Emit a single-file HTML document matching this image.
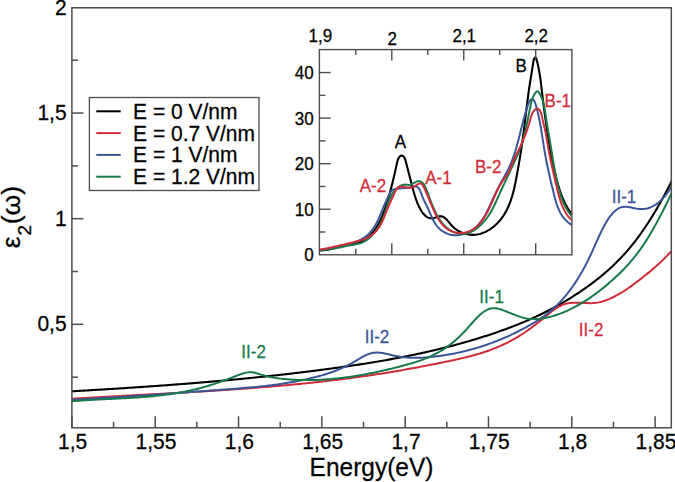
<!DOCTYPE html>
<html><head><meta charset="utf-8"><style>
html,body{margin:0;padding:0;background:#fff;}
body{width:675px;height:482px;overflow:hidden;}
svg{display:block;font-family:"Liberation Sans", sans-serif;}
</style></head><body>
<svg width="675" height="482" viewBox="0 0 675 482">
<rect x="0" y="0" width="675" height="482" fill="#fff"/>
<defs><clipPath id="cm"><rect x="71.90" y="7.80" width="599.40" height="420.00"/></clipPath>
<clipPath id="ci"><rect x="319.4" y="49.6" width="252.4" height="205.2"/></clipPath></defs>
<g clip-path="url(#cm)">
<path d="M72.0,391.30 L73.5,391.22 L75.0,391.13 L76.5,391.04 L78.0,390.96 L79.5,390.87 L81.0,390.78 L82.5,390.69 L84.0,390.61 L85.5,390.52 L87.0,390.43 L88.5,390.34 L90.0,390.25 L91.5,390.16 L93.0,390.07 L94.5,389.98 L96.0,389.89 L97.5,389.80 L99.0,389.71 L100.5,389.62 L102.0,389.53 L103.5,389.44 L105.0,389.34 L106.5,389.25 L108.0,389.16 L109.5,389.06 L111.0,388.97 L112.5,388.88 L114.0,388.78 L115.5,388.69 L117.0,388.59 L118.5,388.50 L120.0,388.40 L121.5,388.30 L123.0,388.21 L124.5,388.11 L126.0,388.01 L127.5,387.92 L129.0,387.82 L130.5,387.72 L132.0,387.62 L133.5,387.52 L135.0,387.42 L136.5,387.32 L138.0,387.22 L139.5,387.12 L141.0,387.01 L142.5,386.91 L144.0,386.81 L145.5,386.71 L147.0,386.60 L148.5,386.50 L150.0,386.39 L151.5,386.29 L153.0,386.18 L154.5,386.07 L156.0,385.97 L157.5,385.86 L159.0,385.75 L160.5,385.64 L162.0,385.54 L163.5,385.43 L165.0,385.32 L166.5,385.20 L168.0,385.09 L169.5,384.98 L171.0,384.87 L172.5,384.76 L174.0,384.64 L175.5,384.53 L177.0,384.41 L178.5,384.30 L180.0,384.18 L181.5,384.07 L183.0,383.95 L184.5,383.83 L186.0,383.71 L187.5,383.60 L189.0,383.48 L190.5,383.36 L192.0,383.24 L193.5,383.11 L195.0,382.99 L196.5,382.87 L198.0,382.75 L199.5,382.62 L201.0,382.50 L202.5,382.37 L204.0,382.25 L205.5,382.12 L207.0,381.99 L208.5,381.86 L210.0,381.73 L211.5,381.61 L213.0,381.47 L214.5,381.34 L216.0,381.21 L217.5,381.08 L219.0,380.95 L220.5,380.81 L222.0,380.68 L223.5,380.54 L225.0,380.41 L226.5,380.27 L228.0,380.13 L229.5,379.99 L231.0,379.85 L232.5,379.71 L234.0,379.57 L235.5,379.43 L237.0,379.29 L238.5,379.15 L240.0,379.00 L241.5,378.86 L243.0,378.71 L244.5,378.57 L246.0,378.42 L247.5,378.27 L249.0,378.12 L250.5,377.97 L252.0,377.82 L253.5,377.67 L255.0,377.52 L256.5,377.37 L258.0,377.21 L259.5,377.06 L261.0,376.90 L262.5,376.74 L264.0,376.59 L265.5,376.43 L267.0,376.27 L268.5,376.11 L270.0,375.95 L271.5,375.79 L273.0,375.62 L274.5,375.46 L276.0,375.29 L277.5,375.13 L279.0,374.96 L280.5,374.79 L282.0,374.62 L283.5,374.46 L285.0,374.28 L286.5,374.11 L288.0,373.94 L289.5,373.77 L291.0,373.59 L292.5,373.42 L294.0,373.24 L295.5,373.06 L297.0,372.89 L298.5,372.71 L300.0,372.53 L301.5,372.34 L303.0,372.16 L304.5,371.98 L306.0,371.79 L307.5,371.61 L309.0,371.42 L310.5,371.23 L312.0,371.05 L313.5,370.86 L315.0,370.67 L316.5,370.47 L318.0,370.28 L319.5,370.09 L321.0,369.89 L322.5,369.70 L324.0,369.50 L325.5,369.30 L327.0,369.10 L328.5,368.90 L330.0,368.70 L331.5,368.49 L333.0,368.29 L334.5,368.09 L336.0,367.88 L337.5,367.67 L339.0,367.46 L340.5,367.25 L342.0,367.04 L343.5,366.83 L345.0,366.61 L346.5,366.40 L348.0,366.18 L349.5,365.96 L351.0,365.74 L352.5,365.52 L354.0,365.30 L355.5,365.07 L357.0,364.85 L358.5,364.62 L360.0,364.39 L361.5,364.16 L363.0,363.92 L364.5,363.69 L366.0,363.45 L367.5,363.21 L369.0,362.97 L370.5,362.73 L372.0,362.48 L373.5,362.24 L375.0,361.99 L376.5,361.74 L378.0,361.48 L379.5,361.23 L381.0,360.97 L382.5,360.71 L384.0,360.45 L385.5,360.19 L387.0,359.92 L388.5,359.65 L390.0,359.38 L391.5,359.11 L393.0,358.84 L394.5,358.56 L396.0,358.28 L397.5,358.00 L399.0,357.71 L400.5,357.43 L402.0,357.14 L403.5,356.84 L405.0,356.55 L406.5,356.25 L408.0,355.95 L409.5,355.65 L411.0,355.34 L412.5,355.03 L414.0,354.72 L415.5,354.41 L417.0,354.09 L418.5,353.77 L420.0,353.45 L421.5,353.12 L423.0,352.79 L424.5,352.46 L426.0,352.13 L427.5,351.79 L429.0,351.45 L430.5,351.10 L432.0,350.76 L433.5,350.40 L435.0,350.05 L436.5,349.69 L438.0,349.33 L439.5,348.97 L441.0,348.60 L442.5,348.23 L444.0,347.86 L445.5,347.48 L447.0,347.10 L448.5,346.72 L450.0,346.33 L451.5,345.94 L453.0,345.54 L454.5,345.15 L456.0,344.74 L457.5,344.34 L459.0,343.93 L460.5,343.52 L462.0,343.10 L463.5,342.68 L465.0,342.25 L466.5,341.83 L468.0,341.39 L469.5,340.96 L471.0,340.52 L472.5,340.07 L474.0,339.63 L475.5,339.17 L477.0,338.72 L478.5,338.26 L480.0,337.79 L481.5,337.32 L483.0,336.85 L484.5,336.37 L486.0,335.89 L487.5,335.41 L489.0,334.92 L490.5,334.42 L492.0,333.92 L493.5,333.42 L495.0,332.91 L496.5,332.40 L498.0,331.88 L499.5,331.36 L501.0,330.83 L502.5,330.29 L504.0,329.75 L505.5,329.21 L507.0,328.66 L508.5,328.10 L510.0,327.53 L511.5,326.96 L513.0,326.39 L514.5,325.80 L516.0,325.21 L517.5,324.61 L519.0,324.01 L520.5,323.40 L522.0,322.78 L523.5,322.15 L525.0,321.52 L526.5,320.88 L528.0,320.23 L529.5,319.57 L531.0,318.91 L532.5,318.23 L534.0,317.55 L535.5,316.86 L537.0,316.16 L538.5,315.45 L540.0,314.74 L541.5,314.01 L543.0,313.28 L544.5,312.53 L546.0,311.78 L547.5,311.01 L549.0,310.24 L550.5,309.46 L552.0,308.66 L553.5,307.86 L555.0,307.04 L556.5,306.22 L558.0,305.39 L559.5,304.54 L561.0,303.68 L562.5,302.82 L564.0,301.94 L565.5,301.05 L567.0,300.15 L568.5,299.23 L570.0,298.31 L571.5,297.37 L573.0,296.42 L574.5,295.46 L576.0,294.49 L577.5,293.50 L579.0,292.51 L580.5,291.50 L582.0,290.47 L583.5,289.44 L585.0,288.39 L586.5,287.33 L588.0,286.25 L589.5,285.16 L591.0,284.06 L592.5,282.94 L594.0,281.80 L595.5,280.65 L597.0,279.48 L598.5,278.30 L600.0,277.09 L601.5,275.87 L603.0,274.62 L604.5,273.35 L606.0,272.06 L607.5,270.75 L609.0,269.41 L610.5,268.05 L612.0,266.66 L613.5,265.25 L615.0,263.81 L616.5,262.34 L618.0,260.84 L619.5,259.30 L621.0,257.74 L622.5,256.14 L624.0,254.51 L625.5,252.84 L627.0,251.14 L628.5,249.39 L630.0,247.61 L631.5,245.79 L633.0,243.93 L634.5,242.03 L636.0,240.08 L637.5,238.10 L639.0,236.07 L640.5,234.00 L642.0,231.88 L643.5,229.73 L645.0,227.53 L646.5,225.29 L648.0,223.00 L649.5,220.67 L651.0,218.30 L652.5,215.89 L654.0,213.43 L655.5,210.92 L657.0,208.38 L658.5,205.79 L660.0,203.15 L661.5,200.47 L663.0,197.75 L664.5,194.98 L666.0,192.16 L667.5,189.30 L669.0,186.40 L670.5,183.45 L671.5,181.46" fill="none" stroke="#000000" stroke-width="2.10" stroke-linejoin="round" stroke-linecap="round"/>
<path d="M72.0,398.73 L73.5,398.64 L75.0,398.55 L76.5,398.46 L78.0,398.36 L79.5,398.27 L81.0,398.18 L82.5,398.10 L84.0,398.01 L85.5,397.92 L87.0,397.83 L88.5,397.74 L90.0,397.66 L91.5,397.57 L93.0,397.48 L94.5,397.40 L96.0,397.31 L97.5,397.23 L99.0,397.14 L100.5,397.06 L102.0,396.97 L103.5,396.89 L105.0,396.80 L106.5,396.72 L108.0,396.64 L109.5,396.55 L111.0,396.47 L112.5,396.39 L114.0,396.31 L115.5,396.23 L117.0,396.14 L118.5,396.06 L120.0,395.98 L121.5,395.90 L123.0,395.82 L124.5,395.74 L126.0,395.66 L127.5,395.58 L129.0,395.49 L130.5,395.41 L132.0,395.33 L133.5,395.25 L135.0,395.17 L136.5,395.09 L138.0,395.01 L139.5,394.93 L141.0,394.85 L142.5,394.77 L144.0,394.69 L145.5,394.61 L147.0,394.53 L148.5,394.45 L150.0,394.37 L151.5,394.29 L153.0,394.21 L154.5,394.13 L156.0,394.05 L157.5,393.96 L159.0,393.88 L160.5,393.80 L162.0,393.72 L163.5,393.64 L165.0,393.56 L166.5,393.47 L168.0,393.39 L169.5,393.31 L171.0,393.23 L172.5,393.14 L174.0,393.06 L175.5,392.98 L177.0,392.89 L178.5,392.81 L180.0,392.72 L181.5,392.64 L183.0,392.55 L184.5,392.47 L186.0,392.38 L187.5,392.30 L189.0,392.21 L190.5,392.12 L192.0,392.04 L193.5,391.95 L195.0,391.86 L196.5,391.77 L198.0,391.68 L199.5,391.59 L201.0,391.50 L202.5,391.41 L204.0,391.32 L205.5,391.23 L207.0,391.14 L208.5,391.04 L210.0,390.95 L211.5,390.86 L213.0,390.76 L214.5,390.67 L216.0,390.57 L217.5,390.47 L219.0,390.38 L220.5,390.28 L222.0,390.18 L223.5,390.08 L225.0,389.98 L226.5,389.88 L228.0,389.78 L229.5,389.68 L231.0,389.58 L232.5,389.48 L234.0,389.37 L235.5,389.27 L237.0,389.16 L238.5,389.06 L240.0,388.95 L241.5,388.84 L243.0,388.73 L244.5,388.62 L246.0,388.51 L247.5,388.40 L249.0,388.29 L250.5,388.18 L252.0,388.06 L253.5,387.95 L255.0,387.83 L256.5,387.72 L258.0,387.60 L259.5,387.48 L261.0,387.36 L262.5,387.24 L264.0,387.12 L265.5,387.00 L267.0,386.88 L268.5,386.75 L270.0,386.63 L271.5,386.50 L273.0,386.37 L274.5,386.24 L276.0,386.11 L277.5,385.98 L279.0,385.85 L280.5,385.72 L282.0,385.59 L283.5,385.45 L285.0,385.31 L286.5,385.18 L288.0,385.04 L289.5,384.90 L291.0,384.76 L292.5,384.62 L294.0,384.47 L295.5,384.33 L297.0,384.18 L298.5,384.03 L300.0,383.89 L301.5,383.74 L303.0,383.58 L304.5,383.43 L306.0,383.28 L307.5,383.12 L309.0,382.97 L310.5,382.81 L312.0,382.65 L313.5,382.49 L315.0,382.33 L316.5,382.16 L318.0,382.00 L319.5,381.83 L321.0,381.67 L322.5,381.50 L324.0,381.33 L325.5,381.15 L327.0,380.98 L328.5,380.81 L330.0,380.63 L331.5,380.45 L333.0,380.27 L334.5,380.09 L336.0,379.91 L337.5,379.72 L339.0,379.54 L340.5,379.35 L342.0,379.16 L343.5,378.97 L345.0,378.78 L346.5,378.58 L348.0,378.39 L349.5,378.19 L351.0,377.99 L352.5,377.79 L354.0,377.59 L355.5,377.38 L357.0,377.18 L358.5,376.97 L360.0,376.76 L361.5,376.55 L363.0,376.34 L364.5,376.12 L366.0,375.91 L367.5,375.69 L369.0,375.47 L370.5,375.24 L372.0,375.02 L373.5,374.80 L375.0,374.57 L376.5,374.34 L378.0,374.11 L379.5,373.87 L381.0,373.64 L382.5,373.40 L384.0,373.16 L385.5,372.92 L387.0,372.68 L388.5,372.43 L390.0,372.19 L391.5,371.94 L393.0,371.69 L394.5,371.44 L396.0,371.18 L397.5,370.93 L399.0,370.67 L400.5,370.41 L402.0,370.15 L403.5,369.88 L405.0,369.62 L406.5,369.35 L408.0,369.08 L409.5,368.81 L411.0,368.54 L412.5,368.27 L414.0,367.99 L415.5,367.72 L417.0,367.44 L418.5,367.16 L420.0,366.87 L421.5,366.59 L423.0,366.30 L424.5,366.01 L426.0,365.72 L427.5,365.43 L429.0,365.14 L430.5,364.85 L432.0,364.55 L433.5,364.25 L435.0,363.95 L436.5,363.65 L438.0,363.35 L439.5,363.04 L441.0,362.74 L442.5,362.43 L444.0,362.12 L445.5,361.81 L447.0,361.49 L448.5,361.18 L450.0,360.86 L451.5,360.54 L453.0,360.22 L454.5,359.90 L456.0,359.57 L457.5,359.24 L459.0,358.90 L460.5,358.56 L462.0,358.21 L463.5,357.86 L465.0,357.50 L466.5,357.13 L468.0,356.75 L469.5,356.37 L471.0,355.98 L472.5,355.58 L474.0,355.17 L475.5,354.75 L477.0,354.32 L478.5,353.88 L480.0,353.43 L481.5,352.96 L483.0,352.49 L484.5,352.00 L486.0,351.50 L487.5,350.98 L489.0,350.45 L490.5,349.91 L492.0,349.35 L493.5,348.77 L495.0,348.18 L496.5,347.57 L498.0,346.95 L499.5,346.31 L501.0,345.64 L502.5,344.97 L504.0,344.27 L505.5,343.55 L507.0,342.81 L508.5,342.06 L510.0,341.28 L511.5,340.48 L513.0,339.66 L514.5,338.81 L516.0,337.95 L517.5,337.06 L519.0,336.15 L520.5,335.21 L522.0,334.25 L523.5,333.26 L525.0,332.25 L526.5,331.22 L528.0,330.17 L529.5,329.09 L531.0,328.00 L532.5,326.89 L534.0,325.76 L535.5,324.62 L537.0,323.46 L538.5,322.28 L540.0,321.10 L541.5,319.89 L543.0,318.68 L544.5,317.46 L546.0,316.23 L547.5,314.98 L549.0,313.74 L550.5,312.52 L552.0,311.32 L553.5,310.17 L555.0,309.07 L556.5,308.04 L558.0,307.09 L559.5,306.24 L561.0,305.50 L562.5,304.86 L564.0,304.32 L565.5,303.87 L567.0,303.50 L568.5,303.21 L570.0,302.99 L571.5,302.83 L573.0,302.72 L574.5,302.67 L576.0,302.65 L577.5,302.67 L579.0,302.71 L580.5,302.77 L582.0,302.84 L583.5,302.92 L585.0,303.00 L586.5,303.06 L588.0,303.11 L589.5,303.13 L591.0,303.13 L592.5,303.08 L594.0,302.99 L595.5,302.84 L597.0,302.64 L598.5,302.37 L600.0,302.05 L601.5,301.67 L603.0,301.25 L604.5,300.77 L606.0,300.24 L607.5,299.67 L609.0,299.07 L610.5,298.42 L612.0,297.73 L613.5,297.02 L615.0,296.26 L616.5,295.48 L618.0,294.66 L619.5,293.80 L621.0,292.91 L622.5,291.98 L624.0,291.02 L625.5,290.04 L627.0,289.03 L628.5,287.99 L630.0,286.93 L631.5,285.84 L633.0,284.75 L634.5,283.64 L636.0,282.52 L637.5,281.39 L639.0,280.25 L640.5,279.10 L642.0,277.94 L643.5,276.77 L645.0,275.58 L646.5,274.37 L648.0,273.15 L649.5,271.91 L651.0,270.66 L652.5,269.38 L654.0,268.08 L655.5,266.76 L657.0,265.42 L658.5,264.06 L660.0,262.67 L661.5,261.26 L663.0,259.82 L664.5,258.35 L666.0,256.85 L667.5,255.33 L669.0,253.77 L670.5,252.18 L671.5,251.11" fill="none" stroke="#d02c38" stroke-width="2.00" stroke-linejoin="round" stroke-linecap="round"/>
<path d="M72.0,399.77 L73.5,399.69 L75.0,399.62 L76.5,399.54 L78.0,399.46 L79.5,399.39 L81.0,399.31 L82.5,399.23 L84.0,399.15 L85.5,399.06 L87.0,398.98 L88.5,398.90 L90.0,398.82 L91.5,398.73 L93.0,398.65 L94.5,398.56 L96.0,398.48 L97.5,398.39 L99.0,398.30 L100.5,398.21 L102.0,398.12 L103.5,398.03 L105.0,397.94 L106.5,397.85 L108.0,397.76 L109.5,397.67 L111.0,397.58 L112.5,397.48 L114.0,397.39 L115.5,397.30 L117.0,397.20 L118.5,397.10 L120.0,397.01 L121.5,396.91 L123.0,396.81 L124.5,396.72 L126.0,396.62 L127.5,396.52 L129.0,396.42 L130.5,396.32 L132.0,396.22 L133.5,396.12 L135.0,396.02 L136.5,395.92 L138.0,395.82 L139.5,395.71 L141.0,395.61 L142.5,395.51 L144.0,395.40 L145.5,395.30 L147.0,395.20 L148.5,395.09 L150.0,394.99 L151.5,394.88 L153.0,394.78 L154.5,394.67 L156.0,394.56 L157.5,394.46 L159.0,394.35 L160.5,394.24 L162.0,394.14 L163.5,394.03 L165.0,393.92 L166.5,393.81 L168.0,393.70 L169.5,393.60 L171.0,393.49 L172.5,393.38 L174.0,393.27 L175.5,393.16 L177.0,393.05 L178.5,392.94 L180.0,392.83 L181.5,392.72 L183.0,392.61 L184.5,392.50 L186.0,392.39 L187.5,392.28 L189.0,392.17 L190.5,392.06 L192.0,391.95 L193.5,391.84 L195.0,391.73 L196.5,391.61 L198.0,391.50 L199.5,391.39 L201.0,391.28 L202.5,391.17 L204.0,391.06 L205.5,390.95 L207.0,390.84 L208.5,390.73 L210.0,390.61 L211.5,390.50 L213.0,390.39 L214.5,390.28 L216.0,390.17 L217.5,390.06 L219.0,389.95 L220.5,389.84 L222.0,389.73 L223.5,389.62 L225.0,389.51 L226.5,389.40 L228.0,389.29 L229.5,389.17 L231.0,389.06 L232.5,388.95 L234.0,388.83 L235.5,388.72 L237.0,388.60 L238.5,388.48 L240.0,388.36 L241.5,388.24 L243.0,388.12 L244.5,387.99 L246.0,387.87 L247.5,387.74 L249.0,387.60 L250.5,387.47 L252.0,387.33 L253.5,387.19 L255.0,387.05 L256.5,386.90 L258.0,386.75 L259.5,386.60 L261.0,386.44 L262.5,386.28 L264.0,386.12 L265.5,385.95 L267.0,385.78 L268.5,385.60 L270.0,385.42 L271.5,385.23 L273.0,385.04 L274.5,384.85 L276.0,384.65 L277.5,384.44 L279.0,384.23 L280.5,384.02 L282.0,383.79 L283.5,383.57 L285.0,383.33 L286.5,383.09 L288.0,382.85 L289.5,382.60 L291.0,382.34 L292.5,382.07 L294.0,381.80 L295.5,381.52 L297.0,381.24 L298.5,380.94 L300.0,380.64 L301.5,380.34 L303.0,380.02 L304.5,379.70 L306.0,379.37 L307.5,379.03 L309.0,378.68 L310.5,378.33 L312.0,377.96 L313.5,377.59 L315.0,377.21 L316.5,376.82 L318.0,376.42 L319.5,376.01 L321.0,375.59 L322.5,375.16 L324.0,374.72 L325.5,374.26 L327.0,373.79 L328.5,373.30 L330.0,372.80 L331.5,372.28 L333.0,371.74 L334.5,371.19 L336.0,370.62 L337.5,370.02 L339.0,369.41 L340.5,368.77 L342.0,368.12 L343.5,367.44 L345.0,366.73 L346.5,366.01 L348.0,365.25 L349.5,364.47 L351.0,363.67 L352.5,362.83 L354.0,361.97 L355.5,361.08 L357.0,360.17 L358.5,359.26 L360.0,358.36 L361.5,357.48 L363.0,356.64 L364.5,355.84 L366.0,355.11 L367.5,354.45 L369.0,353.88 L370.5,353.41 L372.0,353.04 L373.5,352.79 L375.0,352.64 L376.5,352.58 L378.0,352.61 L379.5,352.71 L381.0,352.87 L382.5,353.09 L384.0,353.35 L385.5,353.65 L387.0,353.99 L388.5,354.34 L390.0,354.70 L391.5,355.06 L393.0,355.41 L394.5,355.75 L396.0,356.06 L397.5,356.35 L399.0,356.60 L400.5,356.83 L402.0,357.04 L403.5,357.22 L405.0,357.38 L406.5,357.51 L408.0,357.62 L409.5,357.71 L411.0,357.78 L412.5,357.82 L414.0,357.85 L415.5,357.86 L417.0,357.85 L418.5,357.82 L420.0,357.77 L421.5,357.71 L423.0,357.64 L424.5,357.54 L426.0,357.44 L427.5,357.32 L429.0,357.18 L430.5,357.04 L432.0,356.88 L433.5,356.72 L435.0,356.54 L436.5,356.35 L438.0,356.16 L439.5,355.96 L441.0,355.74 L442.5,355.52 L444.0,355.29 L445.5,355.05 L447.0,354.81 L448.5,354.55 L450.0,354.28 L451.5,354.01 L453.0,353.72 L454.5,353.43 L456.0,353.12 L457.5,352.81 L459.0,352.49 L460.5,352.15 L462.0,351.81 L463.5,351.46 L465.0,351.10 L466.5,350.72 L468.0,350.34 L469.5,349.95 L471.0,349.55 L472.5,349.13 L474.0,348.71 L475.5,348.28 L477.0,347.84 L478.5,347.38 L480.0,346.92 L481.5,346.44 L483.0,345.96 L484.5,345.46 L486.0,344.96 L487.5,344.44 L489.0,343.91 L490.5,343.37 L492.0,342.82 L493.5,342.26 L495.0,341.69 L496.5,341.11 L498.0,340.51 L499.5,339.91 L501.0,339.29 L502.5,338.66 L504.0,338.03 L505.5,337.37 L507.0,336.71 L508.5,336.04 L510.0,335.35 L511.5,334.66 L513.0,333.95 L514.5,333.23 L516.0,332.49 L517.5,331.75 L519.0,330.99 L520.5,330.22 L522.0,329.44 L523.5,328.65 L525.0,327.84 L526.5,327.03 L528.0,326.20 L529.5,325.35 L531.0,324.49 L532.5,323.62 L534.0,322.72 L535.5,321.81 L537.0,320.87 L538.5,319.90 L540.0,318.91 L541.5,317.88 L543.0,316.83 L544.5,315.74 L546.0,314.62 L547.5,313.46 L549.0,312.26 L550.5,311.02 L552.0,309.74 L553.5,308.40 L555.0,307.03 L556.5,305.60 L558.0,304.12 L559.5,302.59 L561.0,301.00 L562.5,299.35 L564.0,297.64 L565.5,295.88 L567.0,294.04 L568.5,292.15 L570.0,290.18 L571.5,288.14 L573.0,286.04 L574.5,283.85 L576.0,281.60 L577.5,279.26 L579.0,276.84 L580.5,274.33 L582.0,271.74 L583.5,269.05 L585.0,266.26 L586.5,263.37 L588.0,260.38 L589.5,257.28 L591.0,254.08 L592.5,250.79 L594.0,247.46 L595.5,244.10 L597.0,240.76 L598.5,237.46 L600.0,234.22 L601.5,231.09 L603.0,228.09 L604.5,225.25 L606.0,222.61 L607.5,220.16 L609.0,217.92 L610.5,215.88 L612.0,214.04 L613.5,212.40 L615.0,210.97 L616.5,209.75 L618.0,208.73 L619.5,207.92 L621.0,207.31 L622.5,206.91 L624.0,206.71 L625.5,206.67 L627.0,206.77 L628.5,206.98 L630.0,207.27 L631.5,207.60 L633.0,207.95 L634.5,208.30 L636.0,208.60 L637.5,208.84 L639.0,209.00 L640.5,209.08 L642.0,209.08 L643.5,208.99 L645.0,208.82 L646.5,208.55 L648.0,208.18 L649.5,207.70 L651.0,207.13 L652.5,206.44 L654.0,205.64 L655.5,204.72 L657.0,203.68 L658.5,202.52 L660.0,201.23 L661.5,199.81 L663.0,198.24 L664.5,196.54 L666.0,194.70 L667.5,192.71 L669.0,190.56 L670.5,188.27 L671.5,186.65" fill="none" stroke="#3a5598" stroke-width="2.00" stroke-linejoin="round" stroke-linecap="round"/>
<path d="M72.0,401.25 L73.5,401.12 L75.0,401.00 L76.5,400.88 L78.0,400.77 L79.5,400.66 L81.0,400.55 L82.5,400.45 L84.0,400.35 L85.5,400.25 L87.0,400.16 L88.5,400.07 L90.0,399.98 L91.5,399.89 L93.0,399.81 L94.5,399.73 L96.0,399.64 L97.5,399.57 L99.0,399.49 L100.5,399.41 L102.0,399.34 L103.5,399.26 L105.0,399.19 L106.5,399.11 L108.0,399.04 L109.5,398.97 L111.0,398.89 L112.5,398.82 L114.0,398.75 L115.5,398.67 L117.0,398.60 L118.5,398.52 L120.0,398.45 L121.5,398.37 L123.0,398.29 L124.5,398.21 L126.0,398.13 L127.5,398.04 L129.0,397.95 L130.5,397.87 L132.0,397.77 L133.5,397.68 L135.0,397.58 L136.5,397.48 L138.0,397.38 L139.5,397.27 L141.0,397.16 L142.5,397.05 L144.0,396.93 L145.5,396.81 L147.0,396.69 L148.5,396.56 L150.0,396.42 L151.5,396.28 L153.0,396.14 L154.5,395.99 L156.0,395.83 L157.5,395.67 L159.0,395.51 L160.5,395.34 L162.0,395.16 L163.5,394.98 L165.0,394.79 L166.5,394.59 L168.0,394.39 L169.5,394.18 L171.0,393.96 L172.5,393.74 L174.0,393.50 L175.5,393.26 L177.0,393.02 L178.5,392.76 L180.0,392.50 L181.5,392.23 L183.0,391.95 L184.5,391.66 L186.0,391.37 L187.5,391.06 L189.0,390.75 L190.5,390.42 L192.0,390.09 L193.5,389.75 L195.0,389.39 L196.5,389.03 L198.0,388.66 L199.5,388.27 L201.0,387.88 L202.5,387.47 L204.0,387.06 L205.5,386.63 L207.0,386.19 L208.5,385.74 L210.0,385.29 L211.5,384.82 L213.0,384.34 L214.5,383.85 L216.0,383.35 L217.5,382.84 L219.0,382.33 L220.5,381.80 L222.0,381.27 L223.5,380.73 L225.0,380.19 L226.5,379.64 L228.0,379.08 L229.5,378.52 L231.0,377.95 L232.5,377.38 L234.0,376.80 L235.5,376.22 L237.0,375.63 L238.5,375.05 L240.0,374.48 L241.5,373.93 L243.0,373.43 L244.5,373.00 L246.0,372.64 L247.5,372.37 L249.0,372.21 L250.5,372.17 L252.0,372.27 L253.5,372.50 L255.0,372.82 L256.5,373.23 L258.0,373.68 L259.5,374.15 L261.0,374.62 L262.5,375.07 L264.0,375.49 L265.5,375.89 L267.0,376.25 L268.5,376.60 L270.0,376.92 L271.5,377.22 L273.0,377.50 L274.5,377.76 L276.0,378.01 L277.5,378.23 L279.0,378.43 L280.5,378.62 L282.0,378.80 L283.5,378.96 L285.0,379.11 L286.5,379.24 L288.0,379.37 L289.5,379.48 L291.0,379.59 L292.5,379.68 L294.0,379.76 L295.5,379.84 L297.0,379.91 L298.5,379.96 L300.0,380.01 L301.5,380.05 L303.0,380.08 L304.5,380.10 L306.0,380.11 L307.5,380.11 L309.0,380.10 L310.5,380.09 L312.0,380.06 L313.5,380.03 L315.0,379.99 L316.5,379.94 L318.0,379.88 L319.5,379.82 L321.0,379.74 L322.5,379.66 L324.0,379.57 L325.5,379.47 L327.0,379.37 L328.5,379.26 L330.0,379.13 L331.5,379.01 L333.0,378.87 L334.5,378.73 L336.0,378.58 L337.5,378.42 L339.0,378.25 L340.5,378.08 L342.0,377.90 L343.5,377.72 L345.0,377.52 L346.5,377.32 L348.0,377.12 L349.5,376.90 L351.0,376.68 L352.5,376.46 L354.0,376.23 L355.5,375.99 L357.0,375.74 L358.5,375.49 L360.0,375.24 L361.5,374.97 L363.0,374.71 L364.5,374.43 L366.0,374.15 L367.5,373.87 L369.0,373.58 L370.5,373.28 L372.0,372.98 L373.5,372.67 L375.0,372.36 L376.5,372.04 L378.0,371.72 L379.5,371.39 L381.0,371.06 L382.5,370.72 L384.0,370.38 L385.5,370.03 L387.0,369.68 L388.5,369.33 L390.0,368.97 L391.5,368.60 L393.0,368.24 L394.5,367.86 L396.0,367.49 L397.5,367.11 L399.0,366.72 L400.5,366.34 L402.0,365.94 L403.5,365.55 L405.0,365.15 L406.5,364.74 L408.0,364.33 L409.5,363.91 L411.0,363.47 L412.5,363.03 L414.0,362.57 L415.5,362.10 L417.0,361.62 L418.5,361.12 L420.0,360.60 L421.5,360.07 L423.0,359.51 L424.5,358.94 L426.0,358.34 L427.5,357.72 L429.0,357.07 L430.5,356.40 L432.0,355.70 L433.5,354.97 L435.0,354.21 L436.5,353.43 L438.0,352.61 L439.5,351.75 L441.0,350.86 L442.5,349.94 L444.0,348.98 L445.5,347.98 L447.0,346.94 L448.5,345.86 L450.0,344.74 L451.5,343.58 L453.0,342.37 L454.5,341.12 L456.0,339.82 L457.5,338.47 L459.0,337.07 L460.5,335.62 L462.0,334.12 L463.5,332.56 L465.0,330.96 L466.5,329.30 L468.0,327.62 L469.5,325.92 L471.0,324.22 L472.5,322.53 L474.0,320.87 L475.5,319.26 L477.0,317.69 L478.5,316.20 L480.0,314.80 L481.5,313.49 L483.0,312.30 L484.5,311.24 L486.0,310.32 L487.5,309.56 L489.0,308.97 L490.5,308.56 L492.0,308.32 L493.5,308.24 L495.0,308.30 L496.5,308.47 L498.0,308.75 L499.5,309.13 L501.0,309.57 L502.5,310.07 L504.0,310.61 L505.5,311.18 L507.0,311.76 L508.5,312.36 L510.0,312.97 L511.5,313.58 L513.0,314.18 L514.5,314.77 L516.0,315.35 L517.5,315.90 L519.0,316.42 L520.5,316.91 L522.0,317.36 L523.5,317.77 L525.0,318.12 L526.5,318.41 L528.0,318.65 L529.5,318.84 L531.0,318.97 L532.5,319.06 L534.0,319.09 L535.5,319.08 L537.0,319.02 L538.5,318.92 L540.0,318.78 L541.5,318.60 L543.0,318.38 L544.5,318.12 L546.0,317.83 L547.5,317.50 L549.0,317.14 L550.5,316.76 L552.0,316.34 L553.5,315.90 L555.0,315.43 L556.5,314.94 L558.0,314.42 L559.5,313.88 L561.0,313.31 L562.5,312.72 L564.0,312.11 L565.5,311.47 L567.0,310.80 L568.5,310.11 L570.0,309.40 L571.5,308.67 L573.0,307.91 L574.5,307.13 L576.0,306.32 L577.5,305.50 L579.0,304.65 L580.5,303.78 L582.0,302.88 L583.5,301.97 L585.0,301.03 L586.5,300.07 L588.0,299.09 L589.5,298.09 L591.0,297.07 L592.5,296.02 L594.0,294.96 L595.5,293.87 L597.0,292.76 L598.5,291.62 L600.0,290.47 L601.5,289.29 L603.0,288.10 L604.5,286.88 L606.0,285.64 L607.5,284.37 L609.0,283.09 L610.5,281.78 L612.0,280.45 L613.5,279.10 L615.0,277.73 L616.5,276.34 L618.0,274.91 L619.5,273.47 L621.0,271.99 L622.5,270.48 L624.0,268.93 L625.5,267.35 L627.0,265.73 L628.5,264.07 L630.0,262.36 L631.5,260.61 L633.0,258.82 L634.5,256.97 L636.0,255.07 L637.5,253.12 L639.0,251.11 L640.5,249.04 L642.0,246.91 L643.5,244.72 L645.0,242.47 L646.5,240.14 L648.0,237.75 L649.5,235.30 L651.0,232.78 L652.5,230.20 L654.0,227.57 L655.5,224.88 L657.0,222.14 L658.5,219.35 L660.0,216.51 L661.5,213.63 L663.0,210.70 L664.5,207.74 L666.0,204.74 L667.5,201.71 L669.0,198.64 L670.5,195.55 L671.5,193.47" fill="none" stroke="#187a4b" stroke-width="2.00" stroke-linejoin="round" stroke-linecap="round"/>
</g>
<rect x="71.90" y="7.80" width="599.40" height="420.00" fill="none" stroke="#4d4d4d" stroke-width="1.5"/>
<line x1="71.90" y1="427.80" x2="71.90" y2="416.30" stroke="#4d4d4d" stroke-width="1.50"/>
<text transform="translate(72.70,449.00) scale(1,1.040)" font-size="21.00" text-anchor="middle" fill="#000" stroke="#000" stroke-width="0.25" >1,5</text>
<line x1="155.22" y1="427.80" x2="155.22" y2="416.30" stroke="#4d4d4d" stroke-width="1.50"/>
<text transform="translate(156.02,449.00) scale(1,1.040)" font-size="21.00" text-anchor="middle" fill="#000" stroke="#000" stroke-width="0.25" >1,55</text>
<line x1="238.53" y1="427.80" x2="238.53" y2="416.30" stroke="#4d4d4d" stroke-width="1.50"/>
<text transform="translate(239.33,449.00) scale(1,1.040)" font-size="21.00" text-anchor="middle" fill="#000" stroke="#000" stroke-width="0.25" >1,6</text>
<line x1="321.84" y1="427.80" x2="321.84" y2="416.30" stroke="#4d4d4d" stroke-width="1.50"/>
<text transform="translate(322.64,449.00) scale(1,1.040)" font-size="21.00" text-anchor="middle" fill="#000" stroke="#000" stroke-width="0.25" >1,65</text>
<line x1="405.16" y1="427.80" x2="405.16" y2="416.30" stroke="#4d4d4d" stroke-width="1.50"/>
<text transform="translate(405.96,449.00) scale(1,1.040)" font-size="21.00" text-anchor="middle" fill="#000" stroke="#000" stroke-width="0.25" >1,7</text>
<line x1="488.48" y1="427.80" x2="488.48" y2="416.30" stroke="#4d4d4d" stroke-width="1.50"/>
<text transform="translate(489.28,449.00) scale(1,1.040)" font-size="21.00" text-anchor="middle" fill="#000" stroke="#000" stroke-width="0.25" >1,75</text>
<line x1="571.79" y1="427.80" x2="571.79" y2="416.30" stroke="#4d4d4d" stroke-width="1.50"/>
<text transform="translate(572.59,449.00) scale(1,1.040)" font-size="21.00" text-anchor="middle" fill="#000" stroke="#000" stroke-width="0.25" >1,8</text>
<line x1="655.11" y1="427.80" x2="655.11" y2="416.30" stroke="#4d4d4d" stroke-width="1.50"/>
<text transform="translate(655.91,449.00) scale(1,1.040)" font-size="21.00" text-anchor="middle" fill="#000" stroke="#000" stroke-width="0.25" >1,85</text>
<line x1="113.56" y1="427.80" x2="113.56" y2="421.80" stroke="#4d4d4d" stroke-width="1.50"/>
<line x1="196.87" y1="427.80" x2="196.87" y2="421.80" stroke="#4d4d4d" stroke-width="1.50"/>
<line x1="280.19" y1="427.80" x2="280.19" y2="421.80" stroke="#4d4d4d" stroke-width="1.50"/>
<line x1="363.50" y1="427.80" x2="363.50" y2="421.80" stroke="#4d4d4d" stroke-width="1.50"/>
<line x1="446.82" y1="427.80" x2="446.82" y2="421.80" stroke="#4d4d4d" stroke-width="1.50"/>
<line x1="530.13" y1="427.80" x2="530.13" y2="421.80" stroke="#4d4d4d" stroke-width="1.50"/>
<line x1="613.45" y1="427.80" x2="613.45" y2="421.80" stroke="#4d4d4d" stroke-width="1.50"/>
<line x1="71.90" y1="324.35" x2="83.40" y2="324.35" stroke="#4d4d4d" stroke-width="1.50"/>
<text transform="translate(66.60,330.95) scale(1,1.040)" font-size="21.00" text-anchor="end" fill="#000" stroke="#000" stroke-width="0.25" >0,5</text>
<line x1="71.90" y1="218.70" x2="83.40" y2="218.70" stroke="#4d4d4d" stroke-width="1.50"/>
<text transform="translate(66.60,226.30) scale(1,1.040)" font-size="21.00" text-anchor="end" fill="#000" stroke="#000" stroke-width="0.25" >1</text>
<line x1="71.90" y1="113.05" x2="83.40" y2="113.05" stroke="#4d4d4d" stroke-width="1.50"/>
<text transform="translate(66.60,119.65) scale(1,1.040)" font-size="21.00" text-anchor="end" fill="#000" stroke="#000" stroke-width="0.25" >1,5</text>
<text transform="translate(66.60,15.00) scale(1,1.040)" font-size="21.00" text-anchor="end" fill="#000" stroke="#000" stroke-width="0.25" >2</text>
<line x1="71.90" y1="377.18" x2="77.90" y2="377.18" stroke="#4d4d4d" stroke-width="1.50"/>
<line x1="71.90" y1="271.52" x2="77.90" y2="271.52" stroke="#4d4d4d" stroke-width="1.50"/>
<line x1="71.90" y1="165.88" x2="77.90" y2="165.88" stroke="#4d4d4d" stroke-width="1.50"/>
<line x1="71.90" y1="60.22" x2="77.90" y2="60.22" stroke="#4d4d4d" stroke-width="1.50"/>
<text transform="translate(371.50,475.80) scale(1,1.040)" font-size="24.50" text-anchor="middle" fill="#000" stroke="#000" stroke-width="0.25" >Energy(eV)</text>
<text transform="rotate(-90)" x="-248.3" y="20.2" font-size="26.5" text-anchor="start" fill="#000" stroke="#000" stroke-width="0.3">&#949;<tspan font-size="19" dx="1.0" dy="10.4">2</tspan><tspan dx="0.6" dy="-10.4">(&#969;)</tspan></text>
<rect x="89.4" y="97.5" width="169.6" height="93" fill="#fff" stroke="#4d4d4d" stroke-width="1.3"/>
<line x1="96.30" y1="111.30" x2="120.70" y2="111.30" stroke="#000000" stroke-width="2.00"/>
<text transform="translate(133.10,118.70) scale(1,1.040)" font-size="21.00" text-anchor="start" fill="#000" stroke="#000" stroke-width="0.25" >E = 0 V/nm</text>
<line x1="96.30" y1="133.10" x2="120.70" y2="133.10" stroke="#d02c38" stroke-width="2.00"/>
<text transform="translate(133.10,140.50) scale(1,1.040)" font-size="21.00" text-anchor="start" fill="#000" stroke="#000" stroke-width="0.25" >E = 0.7 V/nm</text>
<line x1="96.30" y1="154.90" x2="120.70" y2="154.90" stroke="#3a5598" stroke-width="2.00"/>
<text transform="translate(133.10,162.30) scale(1,1.040)" font-size="21.00" text-anchor="start" fill="#000" stroke="#000" stroke-width="0.25" >E = 1 V/nm</text>
<line x1="96.30" y1="176.70" x2="120.70" y2="176.70" stroke="#187a4b" stroke-width="2.00"/>
<text transform="translate(133.10,184.10) scale(1,1.040)" font-size="21.00" text-anchor="start" fill="#000" stroke="#000" stroke-width="0.25" >E = 1.2 V/nm</text>
<rect x="319.40" y="49.60" width="252.50" height="205.20" fill="#fff" stroke="none"/>
<g clip-path="url(#ci)">
<path d="M320.00,250.30 L321.14,250.35 L322.27,250.34 L323.39,250.29 L324.50,250.19 L325.60,250.04 L326.69,249.87 L327.78,249.65 L328.86,249.41 L329.94,249.15 L331.01,248.86 L332.09,248.56 L333.15,248.25 L334.22,247.93 L335.29,247.61 L336.35,247.29 L337.42,246.98 L338.49,246.68 L339.57,246.39 L340.64,246.12 L341.72,245.87 L342.81,245.65 L343.90,245.46 L345.00,245.31 L346.11,245.18 L347.21,245.06 L348.32,244.95 L349.43,244.83 L350.53,244.70 L351.64,244.55 L352.73,244.37 L353.82,244.15 L354.90,243.89 L355.97,243.59 L357.04,243.25 L358.09,242.87 L359.12,242.47 L360.15,242.02 L361.15,241.55 L362.15,241.04 L363.12,240.50 L364.08,239.93 L365.02,239.33 L365.93,238.70 L366.83,238.05 L367.70,237.37 L368.55,236.67 L369.37,235.94 L370.17,235.19 L370.95,234.42 L371.70,233.63 L372.43,232.81 L373.14,231.98 L373.83,231.13 L374.49,230.26 L375.14,229.37 L375.77,228.47 L376.37,227.55 L376.96,226.62 L377.54,225.67 L378.09,224.71 L378.63,223.73 L379.15,222.75 L379.66,221.75 L380.15,220.75 L380.63,219.73 L381.09,218.71 L381.55,217.68 L381.99,216.64 L382.41,215.60 L382.83,214.55 L383.24,213.50 L383.63,212.44 L384.02,211.38 L384.40,210.32 L384.77,209.26 L385.14,208.19 L385.49,207.13 L385.84,206.07 L386.19,205.01 L386.53,203.95 L386.86,202.90 L387.19,201.84 L387.52,200.79 L387.84,199.74 L388.15,198.69 L388.46,197.65 L388.77,196.60 L389.07,195.55 L389.37,194.51 L389.67,193.46 L389.96,192.41 L390.25,191.36 L390.53,190.31 L390.82,189.26 L391.10,188.21 L391.37,187.15 L391.65,186.10 L391.92,185.04 L392.18,183.97 L392.45,182.91 L392.71,181.84 L392.97,180.77 L393.23,179.69 L393.49,178.61 L393.75,177.52 L394.00,176.43 L394.25,175.34 L394.51,174.24 L394.76,173.13 L395.01,172.02 L395.25,170.90 L395.50,169.77 L395.75,168.64 L396.00,167.50 L396.24,166.35 L396.49,165.20 L396.74,164.04 L396.99,162.88 L397.27,161.75 L397.59,160.65 L397.95,159.60 L398.37,158.62 L398.86,157.73 L399.43,156.93 L400.10,156.25 L400.87,155.72 L401.70,155.53 L402.53,155.77 L403.31,156.34 L404.00,157.12 L404.57,158.03 L405.03,159.03 L405.41,160.11 L405.73,161.23 L406.03,162.36 L406.33,163.50 L406.62,164.63 L406.91,165.76 L407.19,166.88 L407.48,168.00 L407.76,169.11 L408.05,170.22 L408.33,171.32 L408.61,172.42 L408.89,173.52 L409.17,174.61 L409.44,175.70 L409.72,176.78 L410.00,177.86 L410.27,178.94 L410.55,180.01 L410.83,181.08 L411.10,182.14 L411.38,183.20 L411.66,184.26 L411.93,185.32 L412.21,186.37 L412.49,187.41 L412.77,188.45 L413.05,189.49 L413.33,190.53 L413.62,191.57 L413.91,192.60 L414.21,193.63 L414.51,194.66 L414.83,195.70 L415.16,196.73 L415.50,197.76 L415.85,198.80 L416.22,199.84 L416.60,200.89 L417.00,201.94 L417.42,202.99 L417.87,204.05 L418.33,205.11 L418.82,206.18 L419.33,207.25 L419.86,208.31 L420.43,209.35 L421.02,210.37 L421.63,211.36 L422.28,212.32 L422.95,213.22 L423.66,214.08 L424.40,214.88 L425.17,215.61 L425.97,216.27 L426.81,216.85 L427.68,217.34 L428.59,217.74 L429.54,218.03 L430.53,218.22 L431.55,218.29 L432.61,218.24 L433.72,218.05 L434.86,217.75 L436.03,217.37 L437.21,216.98 L438.38,216.63 L439.53,216.37 L440.66,216.26 L441.73,216.36 L442.74,216.69 L443.70,217.22 L444.60,217.86 L445.45,218.56 L446.25,219.29 L447.01,220.06 L447.74,220.85 L448.46,221.66 L449.15,222.48 L449.85,223.31 L450.54,224.14 L451.25,224.96 L451.98,225.77 L452.73,226.55 L453.53,227.32 L454.36,228.05 L455.23,228.75 L456.14,229.42 L457.07,230.06 L458.04,230.66 L459.03,231.22 L460.05,231.75 L461.09,232.24 L462.15,232.70 L463.22,233.11 L464.31,233.48 L465.41,233.81 L466.51,234.09 L467.62,234.33 L468.73,234.53 L469.84,234.67 L470.95,234.77 L472.05,234.83 L473.14,234.83 L474.24,234.79 L475.32,234.71 L476.40,234.58 L477.47,234.42 L478.53,234.21 L479.59,233.96 L480.64,233.67 L481.67,233.35 L482.70,232.99 L483.72,232.59 L484.72,232.17 L485.72,231.70 L486.70,231.21 L487.67,230.68 L488.63,230.13 L489.57,229.55 L490.50,228.94 L491.41,228.30 L492.31,227.64 L493.20,226.95 L494.06,226.24 L494.91,225.51 L495.75,224.76 L496.56,223.99 L497.36,223.20 L498.13,222.39 L498.89,221.57 L499.63,220.73 L500.34,219.87 L501.04,219.01 L501.71,218.13 L502.37,217.24 L503.00,216.34 L503.61,215.42 L504.20,214.50 L504.78,213.56 L505.33,212.62 L505.87,211.66 L506.39,210.69 L506.90,209.72 L507.38,208.74 L507.85,207.74 L508.31,206.74 L508.75,205.73 L509.17,204.72 L509.58,203.69 L509.98,202.66 L510.36,201.62 L510.73,200.58 L511.09,199.53 L511.44,198.47 L511.77,197.41 L512.10,196.35 L512.41,195.27 L512.71,194.20 L513.00,193.12 L513.29,192.03 L513.56,190.95 L513.83,189.86 L514.09,188.76 L514.34,187.67 L514.59,186.57 L514.83,185.47 L515.06,184.37 L515.29,183.27 L515.52,182.16 L515.73,181.06 L515.95,179.96 L516.16,178.85 L516.37,177.75 L516.58,176.65 L516.78,175.55 L516.98,174.45 L517.18,173.35 L517.38,172.25 L517.58,171.16 L517.78,170.06 L517.97,168.97 L518.16,167.88 L518.36,166.79 L518.55,165.70 L518.74,164.61 L518.92,163.52 L519.11,162.44 L519.29,161.35 L519.48,160.26 L519.66,159.18 L519.84,158.09 L520.02,157.01 L520.20,155.92 L520.37,154.84 L520.55,153.75 L520.72,152.66 L520.89,151.58 L521.06,150.49 L521.23,149.41 L521.39,148.32 L521.56,147.23 L521.72,146.14 L521.88,145.05 L522.04,143.96 L522.20,142.87 L522.35,141.78 L522.51,140.69 L522.66,139.59 L522.81,138.50 L522.96,137.40 L523.11,136.30 L523.26,135.20 L523.40,134.10 L523.55,132.99 L523.69,131.89 L523.83,130.78 L523.97,129.68 L524.11,128.57 L524.25,127.46 L524.38,126.35 L524.52,125.24 L524.65,124.13 L524.79,123.02 L524.92,121.91 L525.06,120.80 L525.19,119.68 L525.32,118.57 L525.45,117.46 L525.59,116.35 L525.72,115.23 L525.85,114.12 L525.98,113.01 L526.11,111.90 L526.25,110.79 L526.38,109.68 L526.51,108.57 L526.65,107.46 L526.78,106.36 L526.92,105.25 L527.05,104.14 L527.19,103.04 L527.33,101.94 L527.47,100.84 L527.61,99.74 L527.75,98.64 L527.89,97.54 L528.04,96.45 L528.18,95.36 L528.33,94.27 L528.48,93.18 L528.63,92.09 L528.78,91.01 L528.94,89.93 L529.09,88.85 L529.25,87.77 L529.41,86.70 L529.58,85.63 L529.74,84.56 L529.91,83.49 L530.08,82.42 L530.25,81.35 L530.42,80.28 L530.60,79.20 L530.77,78.12 L530.95,77.04 L531.13,75.95 L531.31,74.85 L531.49,73.75 L531.67,72.63 L531.85,71.51 L532.03,70.38 L532.21,69.23 L532.39,68.07 L532.58,66.90 L532.76,65.71 L532.94,64.51 L533.12,63.29 L533.31,62.06 L533.51,60.87 L533.77,59.77 L534.11,58.82 L534.56,58.09 L535.09,57.66 L535.62,57.64 L536.07,58.11 L536.44,58.98 L536.75,60.07 L537.05,61.21 L537.33,62.35 L537.60,63.48 L537.85,64.61 L538.10,65.74 L538.34,66.87 L538.57,67.99 L538.78,69.11 L538.99,70.23 L539.20,71.34 L539.39,72.45 L539.58,73.56 L539.76,74.67 L539.93,75.78 L540.09,76.88 L540.25,77.98 L540.41,79.08 L540.56,80.18 L540.71,81.28 L540.85,82.38 L540.99,83.48 L541.12,84.57 L541.25,85.67 L541.38,86.76 L541.51,87.85 L541.64,88.95 L541.77,90.04 L541.89,91.13 L542.02,92.23 L542.14,93.32 L542.27,94.41 L542.40,95.51 L542.53,96.60 L542.66,97.70 L542.79,98.80 L542.93,99.89 L543.06,100.99 L543.20,102.09 L543.34,103.19 L543.48,104.29 L543.62,105.39 L543.76,106.49 L543.91,107.59 L544.05,108.69 L544.20,109.79 L544.35,110.89 L544.50,111.99 L544.65,113.10 L544.80,114.20 L544.95,115.30 L545.10,116.40 L545.26,117.50 L545.42,118.61 L545.57,119.71 L545.73,120.81 L545.89,121.91 L546.05,123.01 L546.21,124.12 L546.37,125.22 L546.53,126.32 L546.70,127.42 L546.86,128.52 L547.02,129.62 L547.19,130.72 L547.36,131.82 L547.52,132.92 L547.69,134.01 L547.86,135.11 L548.03,136.21 L548.20,137.31 L548.37,138.40 L548.55,139.50 L548.72,140.60 L548.90,141.69 L549.07,142.79 L549.25,143.88 L549.44,144.97 L549.62,146.07 L549.80,147.16 L549.99,148.25 L550.18,149.34 L550.37,150.43 L550.57,151.52 L550.76,152.61 L550.96,153.70 L551.16,154.79 L551.37,155.88 L551.57,156.97 L551.78,158.06 L551.99,159.14 L552.21,160.23 L552.43,161.32 L552.65,162.40 L552.87,163.49 L553.10,164.57 L553.33,165.65 L553.56,166.73 L553.80,167.82 L554.04,168.90 L554.29,169.98 L554.54,171.06 L554.79,172.14 L555.05,173.22 L555.31,174.30 L555.57,175.37 L555.84,176.45 L556.11,177.53 L556.39,178.60 L556.67,179.68 L556.96,180.75 L557.25,181.82 L557.54,182.89 L557.85,183.97 L558.15,185.03 L558.47,186.10 L558.79,187.16 L559.12,188.23 L559.46,189.29 L559.80,190.34 L560.16,191.39 L560.52,192.44 L560.89,193.49 L561.27,194.53 L561.67,195.56 L562.07,196.60 L562.48,197.62 L562.91,198.64 L563.35,199.66 L563.80,200.67 L564.27,201.67 L564.74,202.67 L565.24,203.66 L565.74,204.64 L566.26,205.62 L566.80,206.58 L567.35,207.54 L567.92,208.50 L568.50,209.44 L569.10,210.38 L569.72,211.30 L570.35,212.22 L571.01,213.13 L571.68,214.03" fill="none" stroke="#000000" stroke-width="2.10" stroke-linejoin="round" stroke-linecap="round"/>
<path d="M320.11,250.37 L321.02,250.14 L321.93,249.92 L322.86,249.71 L323.80,249.50 L324.75,249.30 L325.70,249.10 L326.66,248.91 L327.63,248.72 L328.61,248.53 L329.59,248.34 L330.58,248.15 L331.57,247.97 L332.56,247.78 L333.56,247.59 L334.57,247.40 L335.57,247.21 L336.58,247.02 L337.59,246.82 L338.60,246.62 L339.60,246.42 L340.61,246.21 L341.62,245.99 L342.63,245.77 L343.63,245.54 L344.64,245.31 L345.64,245.06 L346.63,244.81 L347.62,244.55 L348.61,244.28 L349.59,243.99 L350.57,243.70 L351.54,243.39 L352.50,243.08 L353.45,242.74 L354.40,242.40 L355.34,242.04 L356.26,241.67 L357.18,241.28 L358.09,240.87 L358.99,240.45 L359.87,240.01 L360.75,239.56 L361.61,239.08 L362.45,238.59 L363.29,238.07 L364.11,237.54 L364.91,236.98 L365.70,236.41 L366.47,235.81 L367.23,235.19 L367.97,234.54 L368.69,233.87 L369.39,233.18 L370.08,232.46 L370.74,231.72 L371.39,230.95 L372.02,230.16 L372.63,229.36 L373.22,228.53 L373.79,227.69 L374.35,226.84 L374.89,225.97 L375.41,225.09 L375.92,224.20 L376.41,223.30 L376.89,222.40 L377.34,221.50 L377.79,220.59 L378.22,219.68 L378.64,218.77 L379.04,217.86 L379.44,216.94 L379.83,216.02 L380.21,215.11 L380.58,214.19 L380.96,213.27 L381.33,212.35 L381.70,211.43 L382.06,210.51 L382.44,209.59 L382.81,208.67 L383.19,207.75 L383.57,206.83 L383.96,205.91 L384.36,204.99 L384.77,204.07 L385.19,203.16 L385.61,202.24 L386.03,201.32 L386.46,200.40 L386.90,199.49 L387.33,198.57 L387.77,197.66 L388.21,196.74 L388.65,195.82 L389.10,194.90 L389.54,193.99 L389.98,193.07 L390.45,192.19 L390.99,191.38 L391.64,190.68 L392.40,190.11 L393.28,189.67 L394.23,189.33 L395.23,189.07 L396.27,188.88 L397.30,188.73 L398.31,188.61 L399.31,188.51 L400.30,188.42 L401.28,188.35 L402.26,188.29 L403.23,188.22 L404.20,188.15 L405.18,188.06 L406.17,187.95 L407.16,187.82 L408.17,187.67 L409.19,187.47 L410.23,187.23 L411.28,186.98 L412.33,186.73 L413.35,186.53 L414.33,186.40 L415.26,186.37 L416.13,186.48 L416.91,186.75 L417.61,187.19 L418.24,187.76 L418.82,188.45 L419.33,189.25 L419.81,190.13 L420.25,191.08 L420.66,192.08 L421.05,193.11 L421.43,194.15 L421.81,195.19 L422.20,196.20 L422.60,197.18 L423.01,198.13 L423.43,199.06 L423.85,199.96 L424.28,200.85 L424.72,201.72 L425.16,202.58 L425.59,203.44 L426.03,204.29 L426.46,205.15 L426.89,206.01 L427.31,206.88 L427.73,207.76 L428.14,208.66 L428.54,209.57 L428.94,210.49 L429.34,211.41 L429.73,212.35 L430.13,213.28 L430.53,214.22 L430.94,215.16 L431.35,216.10 L431.77,217.03 L432.20,217.96 L432.64,218.88 L433.10,219.79 L433.57,220.69 L434.05,221.58 L434.55,222.46 L435.08,223.32 L435.62,224.16 L436.19,224.98 L436.78,225.78 L437.40,226.56 L438.05,227.31 L438.72,228.03 L439.43,228.73 L440.17,229.39 L440.93,230.03 L441.73,230.63 L442.55,231.20 L443.39,231.74 L444.26,232.24 L445.15,232.71 L446.05,233.14 L446.97,233.53 L447.91,233.89 L448.86,234.21 L449.83,234.49 L450.80,234.73 L451.78,234.93 L452.77,235.09 L453.76,235.20 L454.76,235.27 L455.76,235.30 L456.75,235.29 L457.75,235.23 L458.75,235.13 L459.74,235.00 L460.73,234.82 L461.71,234.61 L462.69,234.36 L463.67,234.08 L464.63,233.76 L465.58,233.41 L466.53,233.03 L467.46,232.62 L468.38,232.18 L469.29,231.71 L470.18,231.21 L471.05,230.68 L471.91,230.14 L472.75,229.56 L473.58,228.97 L474.38,228.35 L475.16,227.71 L475.92,227.06 L476.66,226.38 L477.37,225.69 L478.07,224.98 L478.74,224.25 L479.39,223.50 L480.03,222.75 L480.64,221.97 L481.24,221.19 L481.82,220.39 L482.39,219.57 L482.94,218.75 L483.48,217.91 L484.00,217.07 L484.52,216.21 L485.02,215.35 L485.50,214.47 L485.98,213.59 L486.45,212.70 L486.91,211.81 L487.36,210.91 L487.80,210.00 L488.24,209.09 L488.67,208.18 L489.10,207.26 L489.52,206.34 L489.94,205.42 L490.35,204.50 L490.77,203.58 L491.18,202.66 L491.59,201.73 L492.00,200.82 L492.42,199.90 L492.83,198.98 L493.25,198.07 L493.67,197.16 L494.09,196.26 L494.52,195.36 L494.95,194.46 L495.38,193.56 L495.82,192.67 L496.26,191.78 L496.70,190.89 L497.14,190.00 L497.59,189.12 L498.04,188.23 L498.50,187.35 L498.96,186.47 L499.42,185.58 L499.89,184.70 L500.36,183.82 L500.83,182.94 L501.31,182.06 L501.79,181.18 L502.28,180.29 L502.77,179.41 L503.26,178.53 L503.76,177.64 L504.25,176.75 L504.75,175.87 L505.24,174.98 L505.73,174.08 L506.21,173.19 L506.69,172.29 L507.16,171.40 L507.62,170.50 L508.08,169.59 L508.52,168.69 L508.95,167.78 L509.37,166.87 L509.78,165.95 L510.18,165.04 L510.58,164.12 L510.96,163.20 L511.34,162.28 L511.71,161.35 L512.07,160.42 L512.42,159.49 L512.77,158.56 L513.11,157.63 L513.44,156.69 L513.77,155.75 L514.08,154.81 L514.40,153.87 L514.70,152.92 L515.01,151.98 L515.30,151.03 L515.59,150.08 L515.88,149.13 L516.16,148.18 L516.44,147.22 L516.71,146.26 L516.98,145.31 L517.25,144.35 L517.51,143.38 L517.77,142.42 L518.03,141.46 L518.28,140.49 L518.53,139.53 L518.78,138.56 L519.03,137.59 L519.28,136.62 L519.52,135.65 L519.77,134.67 L520.01,133.70 L520.26,132.72 L520.50,131.75 L520.74,130.77 L520.99,129.79 L521.23,128.81 L521.48,127.84 L521.72,126.85 L521.97,125.87 L522.22,124.89 L522.47,123.91 L522.72,122.93 L522.98,121.94 L523.24,120.96 L523.50,119.97 L523.76,118.99 L524.03,118.00 L524.30,117.02 L524.58,116.03 L524.85,115.04 L525.14,114.06 L525.43,113.07 L525.72,112.08 L526.02,111.10 L526.32,110.11 L526.63,109.12 L526.95,108.13 L527.27,107.15 L527.60,106.16 L527.93,105.17 L528.28,104.18 L528.63,103.20 L529.00,102.24 L529.40,101.35 L529.86,100.57 L530.39,99.95 L531.01,99.51 L531.73,99.32 L532.51,99.37 L533.20,99.67 L533.79,100.17 L534.29,100.85 L534.71,101.66 L535.08,102.57 L535.41,103.55 L535.72,104.57 L536.01,105.59 L536.30,106.61 L536.58,107.63 L536.85,108.65 L537.11,109.66 L537.37,110.68 L537.62,111.69 L537.86,112.70 L538.10,113.71 L538.33,114.71 L538.55,115.72 L538.77,116.72 L538.98,117.73 L539.19,118.73 L539.39,119.73 L539.59,120.73 L539.78,121.73 L539.97,122.72 L540.15,123.72 L540.33,124.71 L540.51,125.71 L540.68,126.70 L540.85,127.69 L541.02,128.68 L541.19,129.67 L541.35,130.66 L541.51,131.65 L541.67,132.64 L541.82,133.62 L541.98,134.61 L542.13,135.59 L542.29,136.58 L542.44,137.56 L542.59,138.54 L542.74,139.53 L542.89,140.51 L543.04,141.49 L543.19,142.47 L543.35,143.45 L543.50,144.43 L543.65,145.42 L543.81,146.40 L543.96,147.38 L544.12,148.36 L544.28,149.34 L544.45,150.31 L544.61,151.29 L544.78,152.27 L544.95,153.25 L545.12,154.23 L545.30,155.21 L545.48,156.19 L545.66,157.17 L545.85,158.15 L546.03,159.13 L546.22,160.11 L546.41,161.09 L546.61,162.07 L546.80,163.05 L547.00,164.03 L547.20,165.01 L547.40,165.99 L547.61,166.97 L547.81,167.95 L548.02,168.93 L548.23,169.91 L548.45,170.90 L548.66,171.88 L548.88,172.86 L549.10,173.84 L549.32,174.82 L549.54,175.80 L549.76,176.79 L549.99,177.77 L550.22,178.75 L550.44,179.73 L550.67,180.72 L550.91,181.70 L551.14,182.68 L551.37,183.67 L551.61,184.65 L551.85,185.64 L552.08,186.62 L552.32,187.61 L552.56,188.59 L552.81,189.58 L553.05,190.56 L553.29,191.55 L553.54,192.54 L553.78,193.52 L554.03,194.51 L554.28,195.50 L554.53,196.48 L554.79,197.47 L555.05,198.45 L555.32,199.43 L555.59,200.40 L555.87,201.37 L556.16,202.34 L556.46,203.30 L556.77,204.26 L557.10,205.20 L557.43,206.15 L557.78,207.08 L558.14,208.00 L558.52,208.92 L558.91,209.82 L559.32,210.72 L559.75,211.60 L560.20,212.47 L560.67,213.33 L561.16,214.18 L561.67,215.01 L562.21,215.83 L562.77,216.63 L563.35,217.42 L563.96,218.19 L564.60,218.94 L565.26,219.68 L565.96,220.40 L566.68,221.10 L567.43,221.78 L568.22,222.44 L569.03,223.08 L569.88,223.70 L570.77,224.30 L571.69,224.87" fill="none" stroke="#3a5598" stroke-width="2.00" stroke-linejoin="round" stroke-linecap="round"/>
<path d="M319.99,250.08 L321.09,250.07 L322.18,250.03 L323.27,249.98 L324.35,249.91 L325.42,249.83 L326.49,249.72 L327.55,249.61 L328.61,249.48 L329.66,249.34 L330.71,249.19 L331.76,249.02 L332.80,248.85 L333.84,248.66 L334.88,248.47 L335.92,248.27 L336.95,248.07 L337.99,247.86 L339.02,247.64 L340.05,247.42 L341.09,247.20 L342.13,246.97 L343.16,246.75 L344.20,246.52 L345.24,246.30 L346.29,246.08 L347.33,245.85 L348.39,245.64 L349.44,245.42 L350.50,245.22 L351.56,245.02 L352.63,244.82 L353.71,244.63 L354.78,244.45 L355.86,244.25 L356.93,244.04 L357.99,243.82 L359.04,243.56 L360.07,243.27 L361.08,242.95 L362.07,242.57 L363.04,242.15 L363.98,241.69 L364.90,241.18 L365.80,240.64 L366.68,240.06 L367.53,239.45 L368.37,238.80 L369.18,238.12 L369.98,237.42 L370.75,236.69 L371.51,235.94 L372.24,235.16 L372.96,234.37 L373.66,233.56 L374.35,232.74 L375.01,231.90 L375.66,231.06 L376.29,230.21 L376.91,229.34 L377.51,228.47 L378.09,227.59 L378.65,226.69 L379.20,225.79 L379.73,224.87 L380.24,223.95 L380.74,223.01 L381.21,222.06 L381.67,221.10 L382.12,220.13 L382.54,219.15 L382.95,218.15 L383.34,217.15 L383.72,216.13 L384.09,215.11 L384.44,214.08 L384.79,213.04 L385.13,212.00 L385.47,210.96 L385.80,209.91 L386.13,208.87 L386.46,207.82 L386.80,206.78 L387.13,205.74 L387.48,204.71 L387.83,203.68 L388.19,202.66 L388.57,201.65 L388.95,200.65 L389.36,199.66 L389.77,198.68 L390.21,197.72 L390.67,196.77 L391.15,195.84 L391.65,194.92 L392.18,194.02 L392.74,193.15 L393.33,192.30 L393.95,191.46 L394.60,190.66 L395.29,189.88 L396.02,189.12 L396.78,188.39 L397.58,187.70 L398.42,187.05 L399.30,186.46 L400.21,185.93 L401.16,185.47 L402.15,185.11 L403.16,184.83 L404.21,184.66 L405.30,184.61 L406.41,184.67 L407.53,184.80 L408.63,184.88 L409.69,184.83 L410.69,184.60 L411.65,184.20 L412.60,183.71 L413.56,183.16 L414.55,182.60 L415.56,182.08 L416.57,181.64 L417.59,181.32 L418.60,181.16 L419.60,181.21 L420.58,181.51 L421.51,182.03 L422.37,182.70 L423.12,183.45 L423.77,184.27 L424.34,185.14 L424.84,186.06 L425.29,187.01 L425.71,187.98 L426.11,188.96 L426.51,189.96 L426.90,190.95 L427.28,191.95 L427.67,192.96 L428.05,193.96 L428.43,194.97 L428.81,195.98 L429.19,196.99 L429.57,198.01 L429.96,199.02 L430.34,200.03 L430.73,201.04 L431.12,202.05 L431.51,203.06 L431.91,204.07 L432.32,205.07 L432.73,206.07 L433.15,207.06 L433.58,208.05 L434.01,209.03 L434.46,210.01 L434.91,210.98 L435.37,211.95 L435.85,212.90 L436.34,213.85 L436.83,214.79 L437.35,215.72 L437.87,216.65 L438.41,217.56 L438.97,218.46 L439.54,219.34 L440.13,220.22 L440.74,221.08 L441.36,221.93 L442.01,222.76 L442.67,223.58 L443.35,224.37 L444.06,225.14 L444.79,225.89 L445.53,226.62 L446.31,227.32 L447.11,228.00 L447.93,228.64 L448.78,229.26 L449.65,229.84 L450.55,230.39 L451.48,230.91 L452.44,231.39 L453.43,231.83 L454.45,232.24 L455.50,232.60 L456.58,232.92 L457.67,233.20 L458.79,233.43 L459.91,233.61 L461.03,233.74 L462.14,233.81 L463.25,233.83 L464.33,233.79 L465.39,233.69 L466.43,233.53 L467.43,233.31 L468.41,233.04 L469.37,232.71 L470.31,232.34 L471.22,231.92 L472.12,231.46 L473.01,230.96 L473.88,230.42 L474.74,229.86 L475.59,229.27 L476.43,228.65 L477.26,228.01 L478.08,227.34 L478.89,226.65 L479.69,225.94 L480.48,225.21 L481.26,224.46 L482.03,223.69 L482.78,222.91 L483.52,222.11 L484.24,221.29 L484.95,220.46 L485.65,219.61 L486.33,218.75 L486.99,217.88 L487.64,217.00 L488.27,216.11 L488.88,215.21 L489.47,214.30 L490.05,213.39 L490.60,212.47 L491.14,211.54 L491.66,210.61 L492.16,209.67 L492.66,208.73 L493.14,207.79 L493.61,206.84 L494.07,205.89 L494.52,204.93 L494.96,203.97 L495.40,203.01 L495.84,202.05 L496.27,201.09 L496.70,200.12 L497.13,199.15 L497.57,198.19 L498.00,197.22 L498.44,196.26 L498.87,195.29 L499.31,194.32 L499.75,193.36 L500.19,192.39 L500.64,191.42 L501.08,190.46 L501.53,189.49 L501.97,188.52 L502.42,187.55 L502.87,186.59 L503.32,185.62 L503.77,184.65 L504.22,183.68 L504.67,182.72 L505.12,181.75 L505.57,180.78 L506.03,179.81 L506.48,178.84 L506.93,177.87 L507.39,176.90 L507.84,175.94 L508.30,174.97 L508.75,174.00 L509.21,173.03 L509.67,172.06 L510.12,171.09 L510.58,170.12 L511.03,169.15 L511.49,168.18 L511.94,167.21 L512.40,166.24 L512.85,165.27 L513.30,164.30 L513.75,163.33 L514.19,162.35 L514.63,161.38 L515.08,160.41 L515.51,159.43 L515.95,158.45 L516.38,157.48 L516.80,156.50 L517.22,155.52 L517.64,154.53 L518.05,153.55 L518.46,152.57 L518.86,151.58 L519.25,150.59 L519.64,149.60 L520.02,148.61 L520.39,147.61 L520.76,146.62 L521.12,145.62 L521.47,144.61 L521.82,143.61 L522.15,142.60 L522.48,141.60 L522.80,140.58 L523.10,139.57 L523.40,138.55 L523.69,137.53 L523.98,136.51 L524.25,135.48 L524.52,134.46 L524.78,133.43 L525.03,132.39 L525.28,131.36 L525.52,130.32 L525.75,129.29 L525.98,128.25 L526.21,127.20 L526.43,126.16 L526.65,125.11 L526.87,124.07 L527.08,123.02 L527.29,121.97 L527.50,120.92 L527.71,119.87 L527.92,118.81 L528.12,117.76 L528.33,116.70 L528.54,115.65 L528.75,114.59 L528.95,113.53 L529.17,112.47 L529.38,111.41 L529.59,110.36 L529.81,109.30 L530.04,108.24 L530.26,107.18 L530.49,106.12 L530.73,105.06 L530.97,104.00 L531.22,102.94 L531.47,101.88 L531.74,100.82 L532.03,99.77 L532.34,98.74 L532.70,97.71 L533.10,96.71 L533.56,95.72 L534.07,94.76 L534.66,93.83 L535.32,92.94 L536.06,92.10 L536.82,91.50 L537.55,91.35 L538.22,91.67 L538.83,92.33 L539.40,93.18 L539.92,94.07 L540.42,94.99 L540.88,95.92 L541.31,96.87 L541.72,97.83 L542.09,98.81 L542.45,99.80 L542.77,100.81 L543.08,101.82 L543.36,102.85 L543.63,103.89 L543.87,104.94 L544.10,105.99 L544.32,107.05 L544.52,108.12 L544.72,109.20 L544.90,110.27 L545.07,111.35 L545.24,112.44 L545.40,113.52 L545.56,114.61 L545.71,115.69 L545.87,116.77 L546.02,117.85 L546.18,118.93 L546.34,120.00 L546.51,121.07 L546.68,122.13 L546.85,123.19 L547.02,124.25 L547.19,125.31 L547.37,126.36 L547.55,127.41 L547.73,128.46 L547.91,129.51 L548.10,130.55 L548.28,131.60 L548.46,132.64 L548.65,133.68 L548.83,134.72 L549.01,135.76 L549.20,136.80 L549.38,137.85 L549.56,138.89 L549.74,139.93 L549.92,140.98 L550.10,142.02 L550.27,143.07 L550.45,144.11 L550.62,145.16 L550.79,146.21 L550.97,147.26 L551.14,148.31 L551.31,149.36 L551.48,150.41 L551.65,151.47 L551.82,152.52 L551.99,153.57 L552.16,154.63 L552.33,155.68 L552.50,156.74 L552.67,157.79 L552.84,158.85 L553.02,159.91 L553.19,160.96 L553.37,162.02 L553.54,163.07 L553.72,164.13 L553.91,165.19 L554.09,166.24 L554.27,167.30 L554.46,168.35 L554.65,169.41 L554.84,170.46 L555.04,171.52 L555.24,172.57 L555.44,173.62 L555.64,174.67 L555.85,175.72 L556.06,176.77 L556.28,177.82 L556.50,178.87 L556.72,179.92 L556.95,180.97 L557.18,182.01 L557.42,183.06 L557.66,184.10 L557.90,185.14 L558.15,186.18 L558.41,187.22 L558.67,188.26 L558.94,189.30 L559.21,190.33 L559.50,191.36 L559.79,192.39 L560.09,193.41 L560.40,194.43 L560.72,195.44 L561.05,196.45 L561.39,197.46 L561.75,198.46 L562.12,199.46 L562.50,200.44 L562.90,201.43 L563.31,202.40 L563.74,203.37 L564.18,204.33 L564.64,205.29 L565.12,206.23 L565.62,207.17 L566.13,208.10 L566.67,209.02 L567.22,209.93 L567.80,210.83 L568.40,211.72 L569.02,212.60 L569.66,213.47 L570.32,214.33 L571.01,215.17 L571.73,216.01" fill="none" stroke="#187a4b" stroke-width="2.00" stroke-linejoin="round" stroke-linecap="round"/>
<path d="M320.00,249.53 L320.96,249.37 L321.91,249.21 L322.87,249.05 L323.82,248.88 L324.77,248.71 L325.72,248.53 L326.66,248.36 L327.60,248.17 L328.54,247.98 L329.48,247.79 L330.42,247.60 L331.36,247.40 L332.30,247.20 L333.23,247.00 L334.16,246.79 L335.10,246.59 L336.03,246.38 L336.96,246.17 L337.89,245.95 L338.82,245.74 L339.75,245.52 L340.68,245.30 L341.61,245.08 L342.54,244.86 L343.48,244.64 L344.41,244.42 L345.34,244.20 L346.27,243.97 L347.21,243.75 L348.14,243.53 L349.08,243.31 L350.01,243.08 L350.95,242.86 L351.89,242.64 L352.83,242.42 L353.78,242.20 L354.72,241.98 L355.66,241.76 L356.60,241.53 L357.54,241.29 L358.48,241.05 L359.41,240.80 L360.34,240.53 L361.26,240.25 L362.17,239.95 L363.08,239.64 L363.97,239.30 L364.86,238.95 L365.74,238.57 L366.60,238.16 L367.45,237.73 L368.29,237.28 L369.11,236.80 L369.92,236.30 L370.72,235.77 L371.50,235.22 L372.26,234.64 L373.00,234.04 L373.73,233.42 L374.44,232.78 L375.13,232.12 L375.79,231.43 L376.44,230.72 L377.07,230.00 L377.67,229.25 L378.26,228.48 L378.81,227.70 L379.35,226.89 L379.86,226.07 L380.35,225.23 L380.82,224.38 L381.28,223.51 L381.72,222.64 L382.14,221.75 L382.55,220.86 L382.94,219.96 L383.33,219.06 L383.70,218.16 L384.07,217.25 L384.43,216.34 L384.79,215.44 L385.14,214.54 L385.49,213.65 L385.84,212.77 L386.19,211.89 L386.54,211.02 L386.89,210.16 L387.25,209.31 L387.61,208.46 L387.97,207.61 L388.33,206.77 L388.70,205.93 L389.07,205.09 L389.44,204.24 L389.82,203.39 L390.20,202.54 L390.58,201.68 L390.97,200.81 L391.36,199.93 L391.76,199.05 L392.16,198.15 L392.57,197.24 L392.98,196.31 L393.40,195.37 L393.83,194.41 L394.26,193.43 L394.70,192.45 L395.15,191.47 L395.63,190.54 L396.14,189.66 L396.68,188.85 L397.26,188.15 L397.88,187.57 L398.56,187.14 L399.30,186.85 L400.08,186.68 L400.90,186.61 L401.76,186.63 L402.66,186.72 L403.58,186.86 L404.53,187.03 L405.50,187.21 L406.48,187.38 L407.47,187.52 L408.47,187.62 L409.47,187.65 L410.46,187.61 L411.44,187.46 L412.41,187.19 L413.36,186.80 L414.29,186.33 L415.19,185.80 L416.07,185.26 L416.92,184.73 L417.74,184.25 L418.53,183.85 L419.29,183.56 L420.00,183.42 L420.68,183.46 L421.31,183.72 L421.90,184.18 L422.45,184.82 L422.98,185.59 L423.47,186.47 L423.95,187.41 L424.40,188.37 L424.85,189.33 L425.28,190.29 L425.70,191.23 L426.12,192.17 L426.52,193.10 L426.91,194.03 L427.30,194.94 L427.68,195.86 L428.06,196.76 L428.43,197.66 L428.79,198.56 L429.15,199.45 L429.51,200.33 L429.87,201.21 L430.23,202.09 L430.58,202.96 L430.94,203.83 L431.30,204.70 L431.66,205.56 L432.03,206.42 L432.40,207.28 L432.77,208.13 L433.15,208.99 L433.53,209.84 L433.93,210.69 L434.33,211.54 L434.74,212.39 L435.16,213.23 L435.59,214.08 L436.03,214.93 L436.48,215.77 L436.95,216.62 L437.43,217.46 L437.92,218.29 L438.43,219.12 L438.95,219.94 L439.49,220.75 L440.04,221.54 L440.61,222.33 L441.20,223.09 L441.81,223.84 L442.43,224.57 L443.08,225.28 L443.74,225.97 L444.42,226.63 L445.13,227.27 L445.85,227.88 L446.60,228.47 L447.37,229.02 L448.16,229.54 L448.98,230.03 L449.82,230.48 L450.68,230.89 L451.57,231.27 L452.49,231.61 L453.42,231.91 L454.36,232.17 L455.32,232.39 L456.29,232.58 L457.27,232.73 L458.26,232.84 L459.25,232.91 L460.24,232.94 L461.22,232.93 L462.20,232.89 L463.18,232.80 L464.14,232.68 L465.10,232.52 L466.03,232.32 L466.95,232.08 L467.85,231.80 L468.74,231.49 L469.60,231.14 L470.45,230.76 L471.28,230.34 L472.09,229.89 L472.89,229.41 L473.67,228.91 L474.43,228.37 L475.18,227.80 L475.91,227.21 L476.63,226.60 L477.33,225.96 L478.01,225.30 L478.68,224.62 L479.34,223.92 L479.98,223.20 L480.60,222.46 L481.21,221.71 L481.81,220.94 L482.39,220.16 L482.96,219.36 L483.51,218.55 L484.05,217.74 L484.58,216.91 L485.10,216.08 L485.60,215.24 L486.09,214.39 L486.57,213.54 L487.03,212.69 L487.49,211.83 L487.93,210.97 L488.37,210.11 L488.80,209.24 L489.21,208.37 L489.63,207.50 L490.03,206.63 L490.43,205.75 L490.82,204.87 L491.21,204.00 L491.60,203.12 L491.98,202.24 L492.36,201.36 L492.74,200.48 L493.11,199.60 L493.49,198.73 L493.87,197.85 L494.25,196.97 L494.63,196.10 L495.01,195.23 L495.40,194.35 L495.79,193.49 L496.19,192.62 L496.59,191.75 L497.00,190.89 L497.41,190.04 L497.84,189.18 L498.27,188.33 L498.71,187.49 L499.16,186.64 L499.62,185.81 L500.10,184.98 L500.58,184.15 L501.08,183.33 L501.59,182.51 L502.12,181.70 L502.66,180.90 L503.21,180.10 L503.78,179.31 L504.35,178.52 L504.92,177.73 L505.49,176.94 L506.06,176.15 L506.62,175.35 L507.16,174.55 L507.69,173.75 L508.20,172.93 L508.68,172.11 L509.14,171.27 L509.56,170.43 L509.95,169.57 L510.32,168.69 L510.67,167.82 L511.01,166.93 L511.34,166.04 L511.67,165.14 L512.02,164.25 L512.38,163.36 L512.75,162.47 L513.14,161.58 L513.53,160.69 L513.93,159.80 L514.34,158.92 L514.76,158.03 L515.18,157.15 L515.60,156.27 L516.03,155.39 L516.46,154.52 L516.88,153.64 L517.31,152.77 L517.73,151.90 L518.15,151.04 L518.56,150.17 L518.98,149.31 L519.38,148.44 L519.79,147.58 L520.19,146.72 L520.59,145.86 L520.98,145.00 L521.37,144.14 L521.76,143.27 L522.14,142.41 L522.52,141.55 L522.89,140.68 L523.26,139.81 L523.63,138.94 L523.99,138.07 L524.35,137.19 L524.70,136.32 L525.05,135.43 L525.39,134.55 L525.73,133.66 L526.07,132.77 L526.40,131.87 L526.72,130.97 L527.04,130.06 L527.36,129.14 L527.67,128.22 L527.97,127.30 L528.27,126.37 L528.56,125.43 L528.85,124.48 L529.14,123.53 L529.41,122.57 L529.69,121.60 L529.95,120.62 L530.21,119.64 L530.48,118.66 L530.75,117.68 L531.03,116.72 L531.34,115.77 L531.66,114.85 L532.02,113.97 L532.41,113.12 L532.85,112.31 L533.33,111.56 L533.86,110.86 L534.45,110.23 L535.10,109.67 L535.82,109.18 L536.61,108.82 L537.41,108.71 L538.19,108.95 L538.90,109.43 L539.52,110.05 L540.05,110.79 L540.50,111.61 L540.89,112.51 L541.22,113.47 L541.50,114.48 L541.75,115.52 L541.97,116.57 L542.18,117.62 L542.38,118.65 L542.60,119.66 L542.81,120.63 L543.04,121.59 L543.26,122.52 L543.49,123.43 L543.71,124.34 L543.94,125.23 L544.16,126.12 L544.38,127.01 L544.60,127.90 L544.80,128.80 L545.01,129.71 L545.20,130.62 L545.39,131.55 L545.57,132.48 L545.75,133.41 L545.93,134.35 L546.10,135.30 L546.27,136.25 L546.43,137.20 L546.59,138.16 L546.76,139.12 L546.92,140.08 L547.08,141.04 L547.24,142.01 L547.40,142.97 L547.56,143.93 L547.72,144.89 L547.88,145.85 L548.05,146.80 L548.22,147.76 L548.39,148.71 L548.57,149.66 L548.74,150.61 L548.92,151.55 L549.10,152.50 L549.28,153.44 L549.47,154.38 L549.65,155.32 L549.84,156.25 L550.03,157.19 L550.22,158.13 L550.42,159.06 L550.61,159.99 L550.81,160.92 L551.01,161.86 L551.21,162.79 L551.41,163.72 L551.61,164.65 L551.81,165.58 L552.02,166.50 L552.22,167.43 L552.43,168.36 L552.64,169.29 L552.85,170.22 L553.06,171.15 L553.27,172.08 L553.48,173.01 L553.70,173.94 L553.91,174.87 L554.13,175.80 L554.34,176.73 L554.56,177.66 L554.78,178.60 L554.99,179.53 L555.21,180.47 L555.43,181.41 L555.65,182.35 L555.87,183.29 L556.09,184.23 L556.31,185.17 L556.53,186.12 L556.75,187.07 L556.97,188.02 L557.20,188.97 L557.42,189.92 L557.65,190.87 L557.88,191.82 L558.12,192.76 L558.36,193.71 L558.60,194.66 L558.85,195.60 L559.11,196.54 L559.38,197.48 L559.65,198.41 L559.93,199.34 L560.22,200.26 L560.52,201.18 L560.83,202.09 L561.15,203.00 L561.48,203.90 L561.82,204.79 L562.17,205.68 L562.54,206.56 L562.93,207.43 L563.32,208.29 L563.73,209.14 L564.16,209.98 L564.61,210.81 L565.07,211.63 L565.54,212.44 L566.04,213.23 L566.56,214.02 L567.09,214.79 L567.64,215.55 L568.22,216.29 L568.81,217.02 L569.43,217.74 L570.07,218.44 L570.73,219.13 L571.42,219.80" fill="none" stroke="#d02c38" stroke-width="2.00" stroke-linejoin="round" stroke-linecap="round"/>
</g>
<rect x="319.40" y="49.60" width="252.50" height="205.20" fill="none" stroke="#4d4d4d" stroke-width="1.4"/>
<text transform="translate(320.35,42.30) scale(1,1.040)" font-size="17.00" text-anchor="middle" fill="#000" stroke="#000" stroke-width="0.25" >1,9</text>
<line x1="391.80" y1="49.60" x2="391.80" y2="60.60" stroke="#4d4d4d" stroke-width="1.40"/>
<line x1="391.80" y1="254.80" x2="391.80" y2="243.30" stroke="#4d4d4d" stroke-width="1.40"/>
<text transform="translate(392.30,45.00) scale(1,1.040)" font-size="17.00" text-anchor="middle" fill="#000" stroke="#000" stroke-width="0.25" >2</text>
<line x1="463.75" y1="49.60" x2="463.75" y2="60.60" stroke="#4d4d4d" stroke-width="1.40"/>
<line x1="463.75" y1="254.80" x2="463.75" y2="243.30" stroke="#4d4d4d" stroke-width="1.40"/>
<text transform="translate(464.25,42.30) scale(1,1.040)" font-size="17.00" text-anchor="middle" fill="#000" stroke="#000" stroke-width="0.25" >2,1</text>
<line x1="535.70" y1="49.60" x2="535.70" y2="60.60" stroke="#4d4d4d" stroke-width="1.40"/>
<line x1="535.70" y1="254.80" x2="535.70" y2="243.30" stroke="#4d4d4d" stroke-width="1.40"/>
<text transform="translate(536.20,42.30) scale(1,1.040)" font-size="17.00" text-anchor="middle" fill="#000" stroke="#000" stroke-width="0.25" >2,2</text>
<line x1="355.82" y1="49.60" x2="355.82" y2="55.10" stroke="#4d4d4d" stroke-width="1.40"/>
<line x1="355.82" y1="254.80" x2="355.82" y2="248.80" stroke="#4d4d4d" stroke-width="1.40"/>
<line x1="427.77" y1="49.60" x2="427.77" y2="55.10" stroke="#4d4d4d" stroke-width="1.40"/>
<line x1="427.77" y1="254.80" x2="427.77" y2="248.80" stroke="#4d4d4d" stroke-width="1.40"/>
<line x1="499.72" y1="49.60" x2="499.72" y2="55.10" stroke="#4d4d4d" stroke-width="1.40"/>
<line x1="499.72" y1="254.80" x2="499.72" y2="248.80" stroke="#4d4d4d" stroke-width="1.40"/>
<text transform="translate(313.70,261.40) scale(1,1.040)" font-size="17.00" text-anchor="end" fill="#000" stroke="#000" stroke-width="0.25" >0</text>
<line x1="319.40" y1="209.24" x2="330.60" y2="209.24" stroke="#4d4d4d" stroke-width="1.40"/>
<text transform="translate(313.70,215.84) scale(1,1.040)" font-size="17.00" text-anchor="end" fill="#000" stroke="#000" stroke-width="0.25" >10</text>
<line x1="319.40" y1="163.68" x2="330.60" y2="163.68" stroke="#4d4d4d" stroke-width="1.40"/>
<text transform="translate(313.70,170.28) scale(1,1.040)" font-size="17.00" text-anchor="end" fill="#000" stroke="#000" stroke-width="0.25" >20</text>
<line x1="319.40" y1="118.12" x2="330.60" y2="118.12" stroke="#4d4d4d" stroke-width="1.40"/>
<text transform="translate(313.70,124.72) scale(1,1.040)" font-size="17.00" text-anchor="end" fill="#000" stroke="#000" stroke-width="0.25" >30</text>
<line x1="319.40" y1="72.56" x2="330.60" y2="72.56" stroke="#4d4d4d" stroke-width="1.40"/>
<text transform="translate(313.70,79.16) scale(1,1.040)" font-size="17.00" text-anchor="end" fill="#000" stroke="#000" stroke-width="0.25" >40</text>
<line x1="319.40" y1="232.02" x2="325.40" y2="232.02" stroke="#4d4d4d" stroke-width="1.40"/>
<line x1="319.40" y1="186.46" x2="325.40" y2="186.46" stroke="#4d4d4d" stroke-width="1.40"/>
<line x1="319.40" y1="140.90" x2="325.40" y2="140.90" stroke="#4d4d4d" stroke-width="1.40"/>
<line x1="319.40" y1="95.34" x2="325.40" y2="95.34" stroke="#4d4d4d" stroke-width="1.40"/>
<text transform="translate(400.40,148.20) scale(1,1.040)" font-size="17.00" text-anchor="middle" fill="#000" stroke="#000" stroke-width="0.25" >A</text>
<text transform="translate(521.20,72.00) scale(1,1.040)" font-size="17.00" text-anchor="middle" fill="#000" stroke="#000" stroke-width="0.25" >B</text>
<text transform="translate(373.00,192.00) scale(1,1.040)" font-size="17.00" text-anchor="middle" fill="#d02c38" stroke="#d02c38" stroke-width="0.25" >A-2</text>
<text transform="translate(438.40,184.40) scale(1,1.040)" font-size="17.00" text-anchor="middle" fill="#d02c38" stroke="#d02c38" stroke-width="0.25" >A-1</text>
<text transform="translate(488.20,173.20) scale(1,1.040)" font-size="17.00" text-anchor="middle" fill="#d02c38" stroke="#d02c38" stroke-width="0.25" >B-2</text>
<text transform="translate(557.80,107.00) scale(1,1.040)" font-size="17.00" text-anchor="middle" fill="#d02c38" stroke="#d02c38" stroke-width="0.25" >B-1</text>
<text transform="translate(253.60,358.00) scale(1,1.040)" font-size="17.00" text-anchor="middle" fill="#187a4b" stroke="#187a4b" stroke-width="0.25" >II-2</text>
<text transform="translate(377.00,343.00) scale(1,1.040)" font-size="17.00" text-anchor="middle" fill="#3a5598" stroke="#3a5598" stroke-width="0.25" >II-2</text>
<text transform="translate(491.60,303.40) scale(1,1.040)" font-size="17.00" text-anchor="middle" fill="#187a4b" stroke="#187a4b" stroke-width="0.25" >II-1</text>
<text transform="translate(624.00,203.20) scale(1,1.040)" font-size="17.00" text-anchor="middle" fill="#3a5598" stroke="#3a5598" stroke-width="0.25" >II-1</text>
<text transform="translate(591.10,335.60) scale(1,1.040)" font-size="17.00" text-anchor="middle" fill="#d02c38" stroke="#d02c38" stroke-width="0.25" >II-2</text>
</svg>
</body></html>
